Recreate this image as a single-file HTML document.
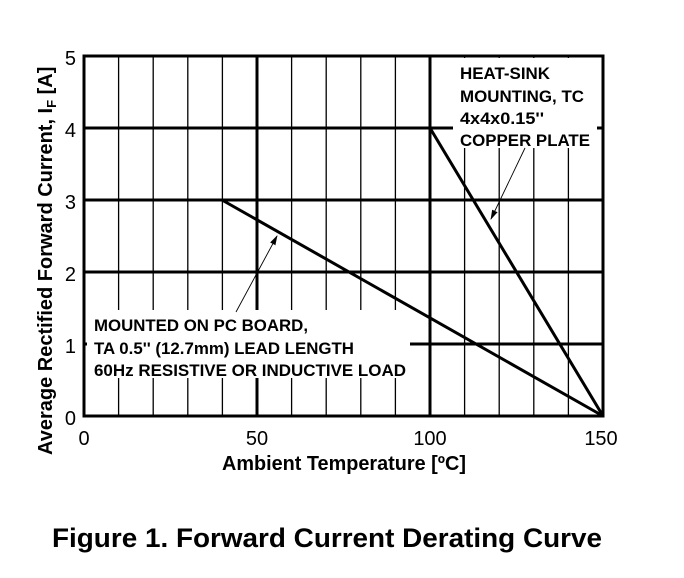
<!DOCTYPE html>
<html><head><meta charset="utf-8"><style>
html,body{margin:0;padding:0;background:#fff;}
svg{display:block;}
text{font-family:"Liberation Sans",Arial,sans-serif;fill:#000;}
</style></head><body>
<svg width="684" height="578" viewBox="0 0 684 578" xmlns="http://www.w3.org/2000/svg">
<defs><marker id="ah" markerWidth="10" markerHeight="10" refX="9" refY="3" orient="auto" markerUnits="userSpaceOnUse"><path d="M0,0 L10,3 L0,6 z" fill="#000"/></marker></defs>
<g stroke="#000" stroke-width="1.3">
<line x1="118.6" y1="56" x2="118.6" y2="416"/><line x1="153.2" y1="56" x2="153.2" y2="416"/><line x1="187.8" y1="56" x2="187.8" y2="416"/><line x1="222.4" y1="56" x2="222.4" y2="416"/>
<line x1="291.6" y1="56" x2="291.6" y2="416"/><line x1="326.2" y1="56" x2="326.2" y2="416"/><line x1="360.8" y1="56" x2="360.8" y2="416"/><line x1="395.4" y1="56" x2="395.4" y2="416"/>
<line x1="464.6" y1="56" x2="464.6" y2="416"/><line x1="499.2" y1="56" x2="499.2" y2="416"/><line x1="533.8" y1="56" x2="533.8" y2="416"/><line x1="568.4" y1="56" x2="568.4" y2="416"/>
</g>
<g stroke="#000" stroke-width="3">
<line x1="257" y1="56" x2="257" y2="416"/><line x1="430" y1="56" x2="430" y2="416"/>
<line x1="84" y1="128" x2="603" y2="128"/><line x1="84" y1="200" x2="603" y2="200"/><line x1="84" y1="272" x2="603" y2="272"/><line x1="84" y1="344" x2="603" y2="344"/>
</g>
<rect x="87" y="310" width="323" height="68" fill="#fff"/>
<rect x="453" y="58" width="144" height="90" fill="#fff"/>
<rect x="84" y="56" width="519" height="360" fill="none" stroke="#000" stroke-width="3"/>
<g stroke="#000" stroke-width="3" fill="none">
<polyline points="84,128 430,128 603,416"/>
<line x1="222" y1="200" x2="603" y2="416"/>
</g>
<g stroke="#000" stroke-width="0.9">
<line x1="525" y1="148" x2="491" y2="219" marker-end="url(#ah)"/>
<line x1="236" y1="312" x2="277" y2="236" marker-end="url(#ah)"/>
</g>
<g font-size="16.5" font-weight="bold">
<text x="460" y="79" textLength="90" lengthAdjust="spacingAndGlyphs">HEAT-SINK</text>
<text x="460" y="102" textLength="124" lengthAdjust="spacingAndGlyphs">MOUNTING, TC</text>
<text x="460" y="124" textLength="84" lengthAdjust="spacingAndGlyphs">4x4x0.15''</text>
<text x="460" y="146" textLength="130" lengthAdjust="spacingAndGlyphs">COPPER PLATE</text>
<text x="94" y="331" textLength="214" lengthAdjust="spacingAndGlyphs">MOUNTED ON PC BOARD,</text>
<text x="94" y="354" textLength="260" lengthAdjust="spacingAndGlyphs">TA 0.5'' (12.7mm) LEAD LENGTH</text>
<text x="94" y="376" textLength="312" lengthAdjust="spacingAndGlyphs">60Hz RESISTIVE OR INDUCTIVE LOAD</text>
</g>
<g font-size="20" text-anchor="end">
<text x="76" y="65">5</text><text x="76" y="137">4</text><text x="76" y="209">3</text><text x="76" y="281">2</text><text x="76" y="353">1</text><text x="76" y="425">0</text>
</g>
<g font-size="20" text-anchor="middle">
<text x="84" y="445">0</text><text x="257" y="445">50</text><text x="430" y="445">100</text><text x="601" y="445">150</text>
</g>
<text x="344" y="470" font-size="20" font-weight="bold" text-anchor="middle" textLength="244" lengthAdjust="spacingAndGlyphs">Ambient Temperature [ºC]</text>
<text transform="translate(52,455) rotate(-90)" font-size="20" font-weight="bold">Average Rectified Forward Current, I<tspan font-size="13" dy="4">F</tspan><tspan dy="-4"> [A]</tspan></text>
<text x="327" y="547" font-size="27" font-weight="bold" text-anchor="middle" textLength="550" lengthAdjust="spacingAndGlyphs">Figure 1. Forward Current Derating Curve</text>
</svg>
</body></html>
